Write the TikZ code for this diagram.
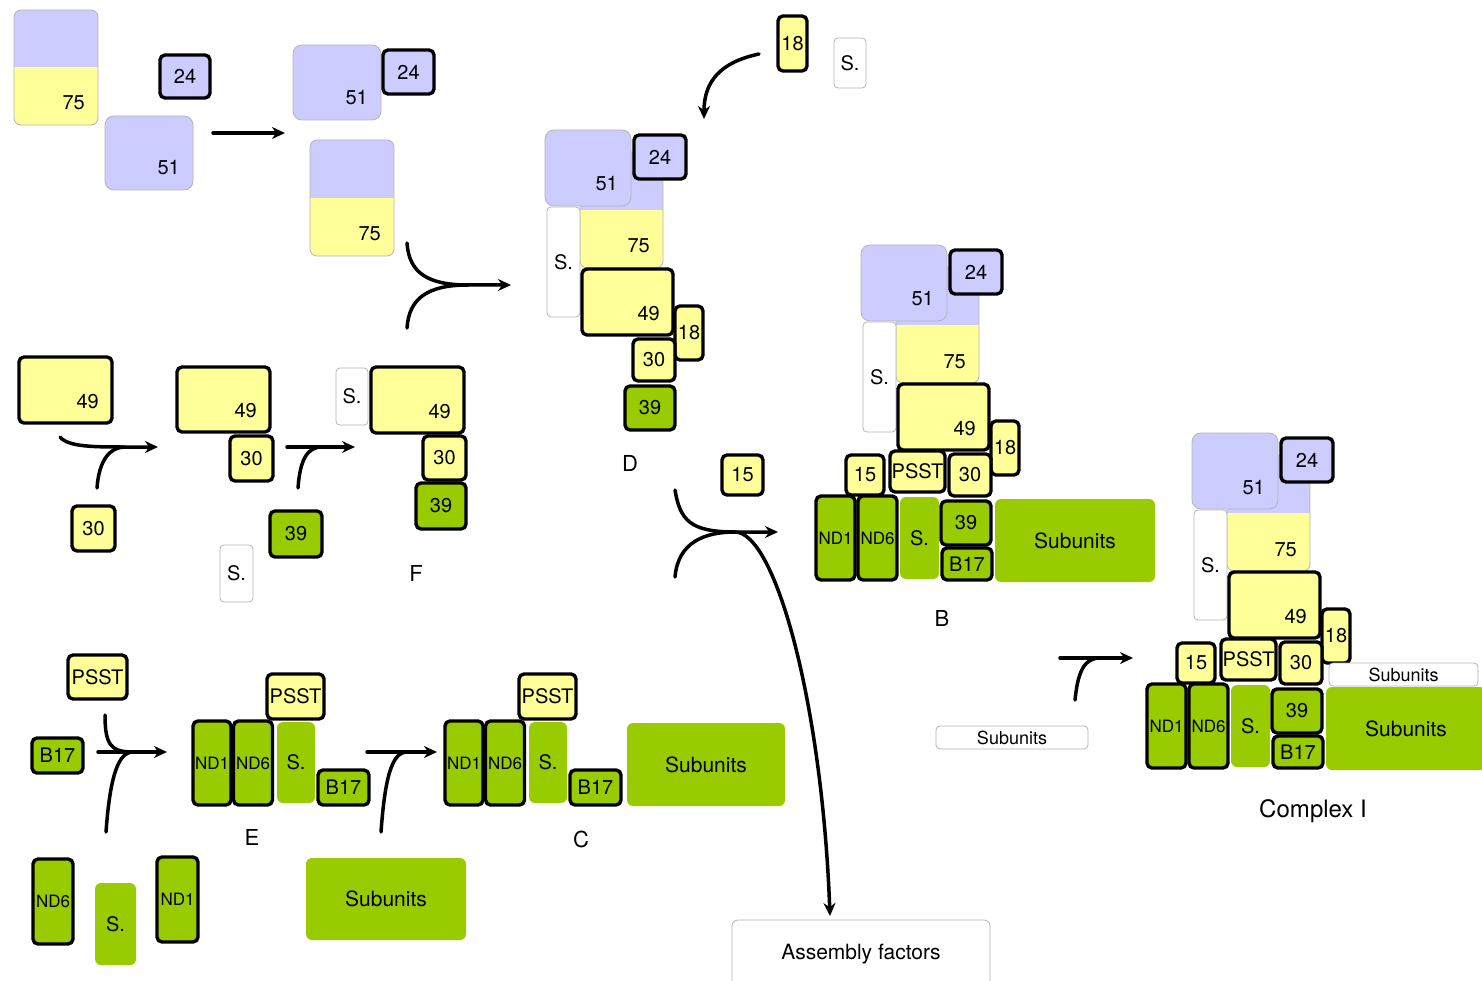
\documentclass[tikz,border=0pt]{standalone}
\usepackage{fontspec}
\setmainfont{TeX Gyre Heros}
\usetikzlibrary{arrows.meta}
\definecolor{subblue}{HTML}{CCCCFF}
\definecolor{subyellow}{HTML}{FFFF99}
\definecolor{subgreen}{HTML}{99CC00}
\definecolor{paleline}{HTML}{B4B4B4}
\tikzset{
    every picture/.style={line cap=round,line join=round},
    boxsize/.style 2 args={minimum width=#1pt,minimum height=#2pt,inner sep=0pt,outer sep=0pt},
    bluesub/.style={fill=subblue,draw=paleline,line width=0.8pt,rounded corners=9pt},
    plainsub/.style={fill=white,draw=paleline,line width=0.8pt,rounded corners=4pt},
    greensub/.style={fill=subgreen,rounded corners=6pt},
    yellowsub/.style={fill=subyellow,draw=black,line width=3.4pt,rounded corners=5pt},
    boldblue/.style={fill=subblue,draw=black,line width=3.4pt,rounded corners=5pt},
    boldgreen/.style={fill=subgreen,draw=black,line width=3.4pt,rounded corners=5pt},
    mixsub/.style={fill=subyellow,draw=paleline,line width=0.8pt,rounded corners=7pt,
      path picture={\fill[fill=subblue,sharp corners] (path picture bounding box.north west)
        rectangle (path picture bounding box.east);}},
    cornernum/.style={label={[anchor=base east,inner sep=0pt,xshift=-13pt,yshift=15pt]south east:#1}},
    ndtext/.style={font=\fontsize{17}{20}\selectfont},
    smalltext/.style={font=\fontsize{18}{21}\selectfont},
    bigtext/.style={font=\fontsize{21}{25}\selectfont},
    steplabel/.style={font=\fontsize{22}{26}\selectfont},
    reactline/.style={draw=black,line width=3.5pt},
    reactarrow/.style={reactline,-{Stealth[length=13pt,width=12pt]}}
}
\begin{document}
\begin{tikzpicture}[x=1pt,y=-1pt,font=\fontsize{20}{24}\selectfont]
  \useasboundingbox (0,0) rectangle (1482,981);
  % free subunits, top left
  \node[mixsub,boxsize={84}{115},cornernum=75] (t75) at (56,67.5) {};
  \node[boldblue,boxsize={50}{43}] (t24) at (185,76.5) {24};
  \node[bluesub,boxsize={88}{74},cornernum=51] (t51) at (149,153) {};
  \node[bluesub,boxsize={88}{75},cornernum=51] (u51) at (337,82.5) {};
  \node[boldblue,boxsize={51}{44}] (u24) at (408.5,72) {24};
  \node[mixsub,boxsize={84}{116},cornernum=75] (u75) at (352,198) {};

  % 49 / 30 / 39 row
  \node[yellowsub,boxsize={93}{66},cornernum=49] (f49a) at (65.5,390) {};
  \node[yellowsub,boxsize={43}{45}] (f30a) at (93.5,528.5) {30};
  \node[yellowsub,boxsize={93}{65},cornernum=49] (f49b) at (223.5,399.5) {};
  \node[yellowsub,boxsize={43}{45}] (f30b) at (251.5,458.5) {30};
  \node[boldgreen,boxsize={52}{46}] (f39b) at (296,534) {39};
  \node[plainsub,boxsize={33}{57}] (fsb) at (236.5,573.5) {S.};
  \node[plainsub,boxsize={32}{57}] (fsc) at (352,396.5) {S.};
  \node[yellowsub,boxsize={93}{66},cornernum=49] (f49c) at (417.5,400) {};
  \node[yellowsub,boxsize={43}{44}] (f30c) at (444.5,458) {30};
  \node[boldgreen,boxsize={50}{46}] (f39c) at (441,506) {39};
  \node[steplabel] (lblf) at (416,573) {F};

  \node[yellowsub,boxsize={29}{55}] (p18) at (792.5,43.5) {18};
  \node[plainsub,boxsize={32}{50}] (ps) at (850,63) {S.};

  % arm of the complex, D / B / Complex I
  \foreach \p/\dx/\dy in {d/0/0,b/316/115,ci/647/303} {
    \begin{scope}[shift={(\dx,\dy)}]
      \node[mixsub,boxsize={83}{116},cornernum=75] (\p-75) at (621.5,210) {};
      \node[bluesub,boxsize={86}{76},cornernum=51] (\p-51) at (588,168) {};
      \node[boldblue,boxsize={52}{44}] (\p-24) at (660,157) {24};
      \node[plainsub,boxsize={33}{110}] (\p-s) at (563.5,262) {S.};
      \node[yellowsub,boxsize={91}{66},cornernum=49] (\p-49) at (627.5,302) {};
      \node[yellowsub,boxsize={28}{54}] (\p-18) at (689,333) {18};
      \node[yellowsub,boxsize={42}{42}] (\p-30) at (654,360) {30};
      \node[boldgreen,boxsize={50}{44}] (\p-39) at (650,408) {39};
    \end{scope}
  }
  \foreach \p/\dx/\dy in {b/316/115,ci/647/303} {
    \begin{scope}[shift={(\dx,\dy)}]
      \node[yellowsub,boxsize={38}{40}] (\p-15) at (549,360) {15};
      \node[yellowsub,boxsize={55}{41}] (\p-psst) at (601.5,356.5) {PSST};
      \node[boldgreen,boxsize={39}{84},ndtext] (\p-nd1) at (519.5,423) {ND1};
      \node[boldgreen,boxsize={39}{84},ndtext] (\p-nd6) at (561.5,423) {ND6};
      \node[greensub,boxsize={39}{82}] (\p-sg) at (603.5,423) {S.};
      \node[boldgreen,boxsize={50}{32}] (\p-b17) at (651,449) {B17};
      \node[greensub,boxsize={160}{83},bigtext] (\p-subs) at (759,425.5) {Subunits};
    \end{scope}
  }
  \node[plainsub,boxsize={149}{23},smalltext] (ci-subw) at (1403.5,674.5) {Subunits};
  \node[steplabel] (lbld) at (630,463) {D};
  \node[steplabel] (lblb) at (942,618) {B};
  \node[steplabel,font=\fontsize{24}{28}\selectfont] (lblci) at (1313,811) {Complex I};

  % membrane arm, E / C
  \node[yellowsub,boxsize={59}{44}] (epsst) at (97.5,677) {PSST};
  \node[boldgreen,boxsize={51}{35}] (eb17) at (57.5,755.5) {B17};
  \node[boldgreen,boxsize={40}{85},ndtext] (end6) at (53,901.5) {ND6};
  \node[greensub,boxsize={41}{82}] (es) at (115.5,924) {S.};
  \node[boldgreen,boxsize={41}{85},ndtext] (end1) at (177.5,899.5) {ND1};
  \foreach \p/\dx in {e/0,c/252} {
    \begin{scope}[shift={(\dx,0)}]
      \node[boldgreen,boxsize={38}{84},ndtext] (\p-nd1) at (212,763) {ND1};
      \node[boldgreen,boxsize={39}{84},ndtext] (\p-nd6) at (253,763) {ND6};
      \node[greensub,boxsize={38}{81}] (\p-sg) at (296,762.5) {S.};
      \node[yellowsub,boxsize={57}{45}] (\p-psst) at (295.5,696.5) {PSST};
      \node[boldgreen,boxsize={51}{35}] (\p-b17) at (343.5,787.5) {B17};
    \end{scope}
  }
  \node[greensub,boxsize={160}{82},bigtext] (esubs) at (386,899) {Subunits};
  \node[greensub,boxsize={158}{83},bigtext] (c-subs) at (706,764.5) {Subunits};
  \node[steplabel] (lble) at (252,837) {E};
  \node[steplabel] (lblc) at (581,839) {C};

  \node[yellowsub,boxsize={41}{40}] (c15) at (742.5,475) {15};
  \node[plainsub,boxsize={258}{68},rounded corners=6pt,bigtext] (asm) at (861,954) {Assembly factors};
  \node[plainsub,boxsize={152}{23},smalltext] (subw) at (1012,737.5) {Subunits};

  % reaction arrows
  \coordinate (a1s) at (213,133);
  \coordinate (a1e) at (285,133);
  \draw[reactarrow] (a1s) -- (a1e);

  \coordinate (m1a) at (407,243);
  \coordinate (m1b) at (407,328);
  \coordinate (m1j) at (468,285);
  \coordinate (m1e) at (511,285);
  \draw[reactarrow] (m1a) .. controls +(2,30) and +(-40,0) .. (m1j) -- (m1e);
  \draw[reactline] (m1b) .. controls +(2,-30) and +(-40,0) .. (m1j);

  \coordinate (p18s) at (759,54);
  \coordinate (p18e) at (704,119);
  \draw[reactarrow] (p18s) .. controls +(-38,8) and +(0,-38) .. (p18e);

  \coordinate (f1a) at (60,437);
  \coordinate (f1b) at (97,488);
  \coordinate (f1j) at (125,447);
  \coordinate (f1e) at (158,447);
  \draw[reactarrow] (f1a) .. controls +(8,10) and +(-30,0) .. (f1j) -- (f1e);
  \draw[reactline] (f1b) .. controls +(2,-28) and +(-15,0) .. (f1j);

  \coordinate (f2s) at (287,447);
  \coordinate (f2b) at (298,488);
  \coordinate (f2j) at (322,447);
  \coordinate (f2e) at (355,447);
  \draw[reactarrow] (f2s) -- (f2e);
  \draw[reactline] (f2b) .. controls +(2,-28) and +(-15,0) .. (f2j);

  \coordinate (e1s) at (98,752);
  \coordinate (e1a) at (105,715);
  \coordinate (e1b) at (106,832);
  \coordinate (e1j) at (133,752);
  \coordinate (e1e) at (167,752);
  \draw[reactarrow] (e1s) -- (e1e);
  \draw[reactline] (e1a) .. controls +(0,30) and +(-22,0) .. (e1j);
  \draw[reactline] (e1b) .. controls +(4,-55) and +(-15,0) .. (e1j);

  \coordinate (e2s) at (367,752);
  \coordinate (e2b) at (381,832);
  \coordinate (e2j) at (407,752);
  \coordinate (e2e) at (437,752);
  \draw[reactarrow] (e2s) -- (e2e);
  \draw[reactline] (e2b) .. controls +(4,-55) and +(-15,0) .. (e2j);

  \coordinate (cua) at (675,490);
  \coordinate (cub) at (675,577);
  \coordinate (cj) at (735,532);
  \coordinate (ce) at (778,532);
  \coordinate (asmtop) at (830,916);
  \draw[reactarrow] (cua) .. controls +(5,30) and +(-45,0) .. (cj) -- (ce);
  \draw[reactarrow] (cub) .. controls +(3,-35) and +(-30,0) .. (cj)
    .. controls +(40,0) and +(-8,-214) .. (asmtop);

  \coordinate (g1s) at (1060,658);
  \coordinate (g1b) at (1075,700);
  \coordinate (g1j) at (1100,658);
  \coordinate (g1e) at (1133,658);
  \draw[reactarrow] (g1s) -- (g1e);
  \draw[reactline] (g1b) .. controls +(3,-30) and +(-15,0) .. (g1j);
\end{tikzpicture}
\end{document}
